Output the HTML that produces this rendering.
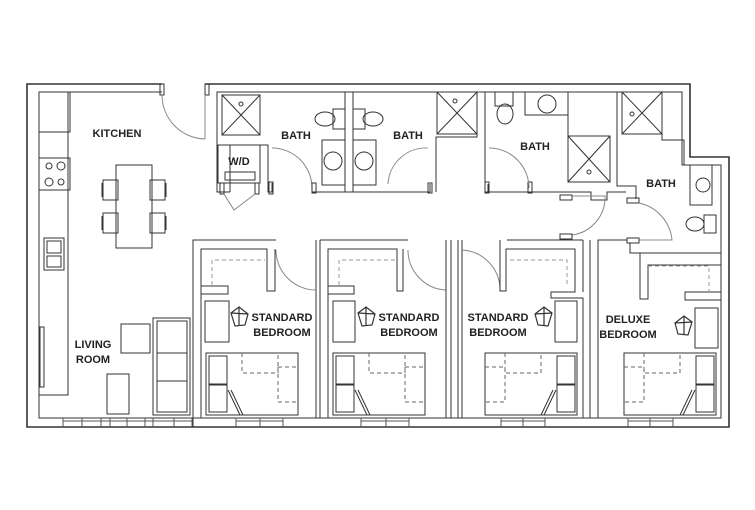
<!DOCTYPE html>
<html><head><meta charset="utf-8"><style>
html,body{margin:0;padding:0;background:#fff;}
svg{display:block}
text{font-family:"Liberation Sans",sans-serif;font-weight:bold;font-size:11px;fill:#222;}
</style></head><body>
<svg width="755" height="510" viewBox="0 0 755 510" xmlns="http://www.w3.org/2000/svg">
<g fill="none" stroke="#333" stroke-width="1">
<path d="M162 84 H27 V427 H729 V157 H690 V84 H205" stroke-width="1.6"/>
<path d="M162 92 H39 V418 H721 V165 H682 V92 H217 V192 H230"/>
<rect x="160" y="84" width="4" height="11"/>
<rect x="205" y="84" width="4" height="11"/>
<path d="M162 95 A44 44 0 0 0 205 139" stroke="#888"/>
<line x1="205" y1="95" x2="205" y2="139" stroke="#888"/>
<path d="M39 395 H68 V92"/>
<rect x="39" y="92" width="31" height="40"/>
<rect x="39" y="158" width="31" height="32"/>
<circle cx="49" cy="166" r="3"/><circle cx="61" cy="166" r="4"/>
<circle cx="49" cy="182" r="4"/><circle cx="61" cy="182" r="3"/>
<rect x="44" y="238" width="20" height="32"/>
<rect x="47" y="241" width="14" height="12"/><rect x="47" y="256" width="14" height="11"/>
<rect x="40" y="327" width="4" height="60"/>
<rect x="116" y="165" width="36" height="83"/>
<path d="M103 180 h15 v20 h-15 z M102 183 v14"/>
<path d="M103 213 h15 v20 h-15 z M102 216 v14"/>
<path d="M150 180 h15 v20 h-15 z M166 183 v14"/>
<path d="M150 213 h15 v20 h-15 z M166 216 v14"/>
<rect x="121" y="324" width="29" height="29"/>
<rect x="107" y="374" width="22" height="40"/>
<rect x="153" y="318" width="37" height="97"/>
<path d="M157 321 h30 v91 h-30 z M157 353 h30 M157 381 h30"/>
<rect x="222" y="95" width="38" height="40"/>
<path d="M222 95 L260 135 M260 95 L222 135"/>
<circle cx="241" cy="104" r="2"/>
<rect x="218" y="145" width="42" height="38"/>
<rect x="225" y="172" width="30" height="8"/>
<path d="M230 192 V145 H268 V192 H272 V183"/>
<rect x="220" y="183" width="4" height="11"/><rect x="255" y="183" width="4" height="11"/><rect x="269" y="182" width="4" height="12"/>
<path d="M224 194 L234 210 L255 194" stroke="#888"/>
<path d="M272 148 A40 40 0 0 1 312 188" stroke="#888"/>
<path d="M312 192 H430 M312 184 V192 M430 184 V192"/>
<rect x="312" y="183" width="4" height="10"/><rect x="428" y="183" width="4" height="10"/>
<line x1="345" y1="92" x2="345" y2="192"/><line x1="353" y1="92" x2="353" y2="192"/>
<rect x="322" y="140" width="23" height="45"/><rect x="353" y="140" width="23" height="45"/>
<circle cx="333" cy="161" r="9"/><circle cx="364" cy="161" r="9"/>
<ellipse cx="325" cy="119" rx="10" ry="7"/><rect x="333" y="109" width="12" height="20"/>
<ellipse cx="373" cy="119" rx="10" ry="7"/><rect x="353" y="109" width="12" height="20"/>
<path d="M388 184 A38 38 0 0 1 428 148" stroke="#888"/>
<path d="M436 192 V137 H477 V92"/>
<rect x="437" y="92" width="40" height="42"/>
<path d="M437 92 L477 134 M477 92 L437 134"/><circle cx="455" cy="101" r="2"/>
<path d="M485 92 V192 H591 V200 H607 V192 H626"/>
<path d="M488 192 V184"/><rect x="485" y="182" width="4" height="11"/><rect x="528" y="182" width="4" height="11"/>
<path d="M489 148 A40 40 0 0 1 529 188" stroke="#888"/>
<ellipse cx="505" cy="114" rx="8" ry="10"/><rect x="495" y="92" width="18" height="14"/>
<path d="M525 92 V115 H568 V136 H610 V182 H568 V136"/>
<circle cx="547" cy="104" r="9"/>
<path d="M568 136 L610 182 M610 136 L568 182"/><circle cx="589" cy="172" r="2"/>
<line x1="568" y1="92" x2="568" y2="115"/>
<path d="M617 92 V186 H636 V199"/>
<rect x="622" y="92" width="40" height="42"/>
<path d="M622 92 L662 134 M662 92 L622 134"/><circle cx="632" cy="114" r="2"/>
<path d="M662 134 V140 H684 V165"/>
<path d="M690 165 V205 H712 V165"/>
<circle cx="703" cy="185" r="7"/>
<ellipse cx="695" cy="224" rx="9" ry="7"/><rect x="704" y="215" width="12" height="18"/>
<rect x="560" y="195" width="12" height="5"/><rect x="627" y="198" width="12" height="5"/>
<path d="M572 196 H605 A38 38 0 0 1 572 235" stroke="#888"/>
<path d="M639 203 A42 42 0 0 1 672 240 H639" stroke="#888"/>
<rect x="560" y="234" width="12" height="5"/><rect x="627" y="238" width="12" height="5"/>
<path d="M193 427 V240 H276 M201 418 V249 H267 V291 H275 V249"/>
<path d="M316 240 V418 M320 240 V418 M320 240 H408 M328 418 V249 H397 V291 H403 V249"/>
<path d="M276 250 A40 40 0 0 0 316 290" stroke="#888"/>
<path d="M408 250 A40 40 0 0 0 446 290" stroke="#888"/>
<path d="M446 240 V418 M451 240 V418 M458 240 V418 M462 240 V418"/>
<path d="M462 250 A40 40 0 0 1 500 290" stroke="#888"/>
<path d="M500 240 V291 H506 V249 H575 V292 H551 V298 H583 V418 M583 240 V292 M507 240 H583"/>
<!-- deluxe -->
<path d="M590 240 V418 M598 418 V240 H627"/>
<path d="M630 243 V253 H640 V299 H648 V265 H721 M640 253 H721"/>
<path d="M721 292 H685 V300 H721"/>
<g stroke-dasharray="4 3" stroke="#999">
<path d="M212 285 V260 H265"/><path d="M339 285 V260 H395"/>
<path d="M510 260 H567 V285"/><path d="M648 266 H709 V292"/>
</g>
<path d="M201 286 H228 V294 H201 M328 286 H354 V294 H328"/>
<rect x="205" y="301" width="24" height="41"/><rect x="333" y="301" width="22" height="41"/>
<rect x="555" y="301" width="22" height="41"/><rect x="695" y="308" width="23" height="40"/>
<g stroke-width="1.2">
<path d="M231 313 l8 -6 l9 7 l-3 11 l-10 1 z M239 307 l0 18 M231 313 l17 1"/>
<path d="M358 313 l8 -6 l9 7 l-3 11 l-10 1 z M366 307 l0 18 M358 313 l17 1"/>
<path d="M552 313 l-8 -6 l-9 7 l3 11 l10 1 z M544 307 l0 18 M552 313 l-17 1"/>
<path d="M692 322 l-8 -6 l-9 7 l3 11 l10 1 z M684 316 l0 18 M692 322 l-17 1"/>
</g>
<g>
<rect x="206" y="353" width="92" height="62"/><rect x="209" y="356" width="18" height="28"/><rect x="209" y="385" width="18" height="27"/>
<path d="M228 390 L240 415 M231 390 L243 415"/>
<rect x="333" y="353" width="92" height="62"/><rect x="336" y="356" width="18" height="28"/><rect x="336" y="385" width="18" height="27"/>
<path d="M355 390 L367 415 M358 390 L370 415"/>
<rect x="485" y="353" width="92" height="62"/><rect x="557" y="356" width="18" height="28"/><rect x="557" y="385" width="18" height="27"/>
<path d="M556 390 L544 415 M553 390 L541 415"/>
<rect x="624" y="353" width="92" height="62"/><rect x="696" y="356" width="18" height="28"/><rect x="696" y="385" width="18" height="27"/>
<path d="M695 390 L683 415 M692 390 L680 415"/>
</g>
<g stroke-dasharray="4 3" stroke="#666">
<path d="M242 353 V373 H278 V353 M278 367 H298 M278 367 V402 H298"/>
<path d="M369 353 V373 H405 V353 M405 367 H425 M405 367 V402 H425"/>
<path d="M485 367 H505 V402 H485 M505 353 V373 H541 V353"/>
<path d="M624 367 H644 V402 H624 M644 353 V373 H680 V353"/>
</g>
<g stroke="#555">
<path d="M63 418 V427 M82 418 V427 M101 418 V427 M110 418 V427 M127 418 V427 M145 418 V427 M153 418 V427 M174 418 V427 M192 418 V427"/>
<path d="M63 421 H192 M236 418 V427 M260 418 V427 M283 418 V427 M236 421 H283"/>
<path d="M361 418 V427 M386 418 V427 M409 418 V427 M361 421 H409"/>
<path d="M501 418 V427 M523 418 V427 M545 418 V427 M501 421 H545"/>
<path d="M628 418 V427 M650 418 V427 M673 418 V427 M628 421 H673"/>
</g>
</g>
<g text-anchor="middle">
<text x="117" y="137">KITCHEN</text>
<text x="296" y="139">BATH</text>
<text x="408" y="139">BATH</text>
<text x="535" y="150">BATH</text>
<text x="661" y="187">BATH</text>
<text x="282" y="321">STANDARD</text><text x="282" y="336">BEDROOM</text>
<text x="409" y="321">STANDARD</text><text x="409" y="336">BEDROOM</text>
<text x="498" y="321">STANDARD</text><text x="498" y="336">BEDROOM</text>
<text x="628" y="323">DELUXE</text><text x="628" y="338">BEDROOM</text>
<text x="93" y="348">LIVING</text><text x="93" y="363">ROOM</text>
<text x="239" y="165">W/D</text>
</g>
</svg>
</body></html>
